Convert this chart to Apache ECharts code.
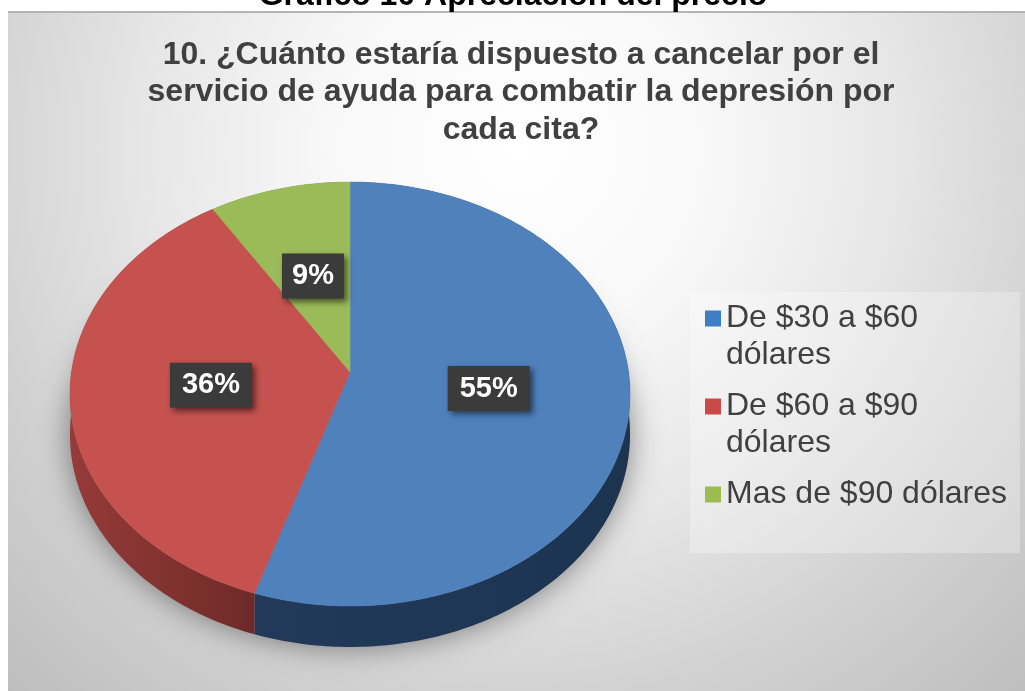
<!DOCTYPE html>
<html>
<head>
<meta charset="utf-8">
<style>
  html, body { margin: 0; padding: 0; background: #fff; }
  #main { width: 1025px; height: 691px; }
</style>
<script src="https://cdn.jsdelivr.net/npm/echarts@6/dist/echarts.min.js"></script>
</head>
<body>
<div id="main"></div>
<script>
const categories = ['De $30 a $60\ndólares', 'De $60 a $90\ndólares', 'Mas de $90 dólares']
const percents = [55, 36, 9]
const faceColors = ['#4f81bd', '#c5524f', '#9bbb59']
const legendColors = ['#3f7ec5', '#c84a47', '#9cbc50']
const wallColors = [['#22395a', '#1c3450'], ['#963b39', '#6e2a28'], ['#6f8a3c', '#5c7432']]

// inclinación del pastel: el vértice no cae en el centro de la elipse
const apexX = 350, apexY = 372
const scaleX = 278.5, scaleY = 209.7, persp = 0.1038, depth = 41

function project(percent, r) {
  const a = percent / 100 * Math.PI * 2
  const u = Math.sin(a) * r, v = Math.cos(a) * r
  const d = 1 + persp * v
  return [apexX + scaleX * u / d, apexY - scaleY * v / d]
}

function rim(from, to, dy) {
  const pts = []
  const steps = Math.max(2, Math.ceil((to - from) * 4))
  for (let i = 0; i <= steps; i++) {
    const p = project(from + (to - from) * i / steps, 1)
    pts.push([p[0], p[1] + dy])
  }
  return pts
}

function renderSlice(idx, params, api) {
  const start = percents.slice(0, idx).reduce((a, b) => a + b, 0)
  const end = start + api.value(0)
  const top = rim(start, end, 0)
  const wall = top.concat(rim(start, end, depth).reverse())
  const label = project((start + end) / 2, 0.5)
  const children = []
  if (idx === 0) {
    // sombra exterior, solo una vez
    children.push({
      type: 'polygon',
      z2: 0,
      shape: { points: rim(0, 100, depth - 8) },
      style: { fill: '#999', shadowBlur: 30, shadowColor: 'rgba(0,0,0,0.45)', shadowOffsetY: 8 }
    })
  }
  children.push({
    type: 'polygon',
    z2: 1,
    shape: { points: wall },
    style: {
      fill: {
        type: 'linear', x: 0, y: 0, x2: 1, y2: 0,
        colorStops: [{ offset: 0, color: wallColors[idx][0] }, { offset: 1, color: wallColors[idx][1] }]
      }
    }
  })
  children.push({
    type: 'polygon',
    z2: 2,
    shape: { points: [[apexX, apexY]].concat(top) },
    style: { fill: faceColors[idx], stroke: faceColors[idx], lineWidth: 0.5 }
  })
  children.push({
    type: 'text',
    z2: 3,
    x: label[0],
    y: label[1],
    style: {
      text: api.value(0) + '%',
      align: 'center',
      verticalAlign: 'middle',
      fill: '#fff',
      font: 'bold 29px "Liberation Sans", Arial, sans-serif',
      backgroundColor: '#3b3b3b',
      padding: idx === 2 ? [8, 10] : [8, 12],
      shadowColor: 'rgba(0,0,0,0.55)',
      shadowBlur: 6,
      shadowOffsetX: 3,
      shadowOffsetY: 3
    }
  })
  return { type: 'group', children: children }
}

const myChart = echarts.init(document.getElementById('main'))
myChart.setOption({
  animation: false,
  backgroundColor: '#fff',
  graphic: [
    {
      type: 'rect',
      z: -10,
      shape: { x: 8, y: 11, width: 1017, height: 680 },
      style: {
        fill: {
          type: 'radial', global: true, x: 520, y: 150, r: 760,
          colorStops: [
            { offset: 0, color: '#ffffff' },
            { offset: 0.25, color: '#f8f8f8' },
            { offset: 0.5, color: '#e6e6e6' },
            { offset: 0.72, color: '#d2d2d2' },
            { offset: 1, color: '#bcbcbc' }
          ]
        }
      }
    },
    {
      type: 'rect',
      z: -9,
      shape: { x: 8, y: 11, width: 1017, height: 2 },
      style: { fill: '#b4b4b4' }
    },
    {
      type: 'rect',
      z: -5,
      shape: { x: 690, y: 292, width: 330, height: 261 },
      style: { fill: 'rgba(255,255,255,0.28)' }
    }
  ],
  title: [
    {
      text: 'Grafico 10 Apreciación del precio',
      left: 508,
      top: -25,
      textAlign: 'center',
      textStyle: { color: '#000', fontSize: 32, fontWeight: 'bold', fontFamily: '"Liberation Sans", Arial, sans-serif' }
    },
    {
      text: '10. ¿Cuánto estaría dispuesto a cancelar por el\nservicio de ayuda para combatir la depresión por\ncada cita?',
      left: 516,
      top: 31,
      textAlign: 'center',
      textStyle: { color: '#404040', fontSize: 32, lineHeight: 37.5, fontWeight: 'bold', fontFamily: '"Liberation Sans", Arial, sans-serif' }
    }
  ],
  legend: {
    orient: 'vertical',
    left: 705,
    top: 263,
    padding: 0,
    itemGap: -23,
    itemWidth: 16,
    itemHeight: 16,
    icon: 'rect',
    // línea en blanco delante para que el cuadrito quede junto a la primera línea
    formatter: name => '\n' + name + (name.indexOf('\n') < 0 ? '\n ' : ''),
    textStyle: { color: '#404040', fontSize: 32, lineHeight: 37, fontFamily: '"Liberation Sans", Arial, sans-serif' },
    data: categories.map((name, idx) => ({ name: name, itemStyle: { color: legendColors[idx] } }))
  },
  series: categories.map((name, idx) => ({
    type: 'custom',
    name: name,
    coordinateSystem: 'none',
    itemStyle: { color: faceColors[idx] },
    data: [[percents[idx]]],
    renderItem: (params, api) => renderSlice(idx, params, api)
  }))
})

window.addEventListener('resize', () => {
  myChart.resize()
})
</script>
</body>
</html>
